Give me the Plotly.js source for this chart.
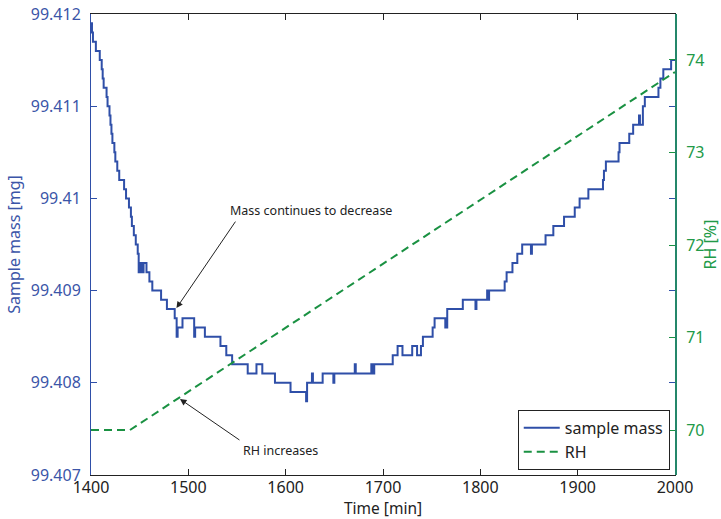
<!DOCTYPE html>
<html>
<head>
<meta charset="utf-8">
<script src="https://cdn.plot.ly/plotly-3.0.1.min.js"></script>
<style>
html,body{margin:0;padding:0;background:#fff;}
#chart{width:721px;height:519px;}
</style>
</head>
<body>
<div id="chart"></div>
<script>
// ---- data ----
const massTime = [1400,1401,1402,1405,1409,1411,1412,1413,1416,1417,1419,1420,1421,1422,1424,1425,1427,1429,1434,1436,1439,1441,1442,1444,1446,1448,1449,1450,1451,1452,1453,1454,1457,1460,1463,1472,1478,1486,1488,1489,1494,1506,1507,1517,1533,1539,1545,1561,1570,1576,1589,1605,1621,1622,1627,1628,1638,1649,1650,1671,1672,1688,1690,1691,1710,1715,1720,1730,1735,1739,1741,1751,1753,1764,1766,1782,1795,1796,1807,1808,1809,1825,1827,1833,1838,1843,1852,1853,1867,1875,1886,1897,1902,1911,1926,1927,1929,1942,1943,1953,1957,1963,1964,1967,1969,1983,1985,1988,1996,2000];
const massValue = [99.4119,99.4118,99.4117,99.4116,99.4115,99.4114,99.4113,99.4112,99.4111,99.4110,99.4109,99.4108,99.4107,99.4106,99.4105,99.4104,99.4103,99.4102,99.4101,99.4100,99.4099,99.4098,99.4097,99.4096,99.4095,99.4094,99.4092,99.4093,99.4092,99.4093,99.4092,99.4093,99.4092,99.4091,99.4090,99.4089,99.4088,99.4087,99.4085,99.4086,99.4087,99.4085,99.4086,99.4085,99.4084,99.4083,99.4082,99.4081,99.4082,99.4081,99.4080,99.4079,99.4078,99.4080,99.4081,99.4080,99.4081,99.4080,99.4081,99.4082,99.4081,99.4082,99.4081,99.4082,99.4083,99.4084,99.4083,99.4084,99.4083,99.4084,99.4085,99.4086,99.4087,99.4086,99.4088,99.4089,99.4088,99.4089,99.4090,99.4089,99.4090,99.4091,99.4092,99.4093,99.4094,99.4095,99.4094,99.4095,99.4096,99.4097,99.4098,99.4099,99.4100,99.4101,99.4102,99.4103,99.4104,99.4105,99.4106,99.4107,99.4108,99.4109,99.4108,99.4110,99.4111,99.4112,99.4113,99.4114,99.4115,99.4115];

const rhTime = [1400, 1440, 2000];
const rhValue = [70, 70, 73.87];

const xTickValues = [1400,1500,1600,1700,1800,1900,2000];
const yTickValues = [99.407,99.408,99.409,99.41,99.411,99.412];
const yTickLabels = ['99.407','99.408','99.409','99.41','99.411','99.412'];
const y2TickValues = [70,71,72,73,74];

const seriesNames = ['sample mass','RH'];
const annotationTexts = ['Mass continues to decrease','RH increases'];
const axisTitles = {x:'Time [min]', y:'Sample mass [mg]', y2:'RH [%]'};

// ---- styling ----
const BLUE = '#2f4fa8';
const BLUE_TXT = '#3b55a8';
const GREEN = '#1a9142';
const GREEN_TXT = '#229a48';
const FONT = '"Noto Sans", "Open Sans", sans-serif';

const traces = [
  {x: massTime, y: massValue, name: seriesNames[0], type:'scatter', mode:'lines',
   line:{color:BLUE, width:2, shape:'hv'}, yaxis:'y'},
  {x: rhTime, y: rhValue, name: seriesNames[1], type:'scatter', mode:'lines',
   line:{color:GREEN, width:2, dash:'8px,5px'}, yaxis:'y2'}
];

const layout = {
  width:721, height:519,
  margin:{l:91, r:46, t:14, b:44},
  paper_bgcolor:'#fff', plot_bgcolor:'#fff',
  font:{family:FONT, size:16, color:'#222'},
  showlegend:true,
  legend:{x:0.991, xanchor:'right', y:0.011, yanchor:'bottom',
    bordercolor:'#222', borderwidth:1, bgcolor:'#fff', itemwidth:36,
    font:{family:FONT, size:16, color:'#222'}, tracegroupgap:0},
  xaxis:{range:[1400,2000], tickvals:xTickValues, ticks:'inside', ticklen:6,
    tickcolor:'#222', showline:true, linecolor:'#222', linewidth:1, mirror:'ticks',
    showgrid:false, zeroline:false, tickfont:{size:16, color:'#222'}, ticklabelstandoff:-2,
    title:{text:axisTitles.x, font:{size:15.5, color:'#222'}, standoff:5}},
  yaxis:{range:[99.407,99.412], tickvals:yTickValues, ticktext:yTickLabels,
    ticks:'inside', ticklen:6, tickcolor:BLUE, showline:true, linecolor:BLUE, linewidth:1,
    mirror:'ticks', showgrid:false, zeroline:false, ticklabelstandoff:6,
    tickfont:{size:16, color:BLUE_TXT},
    title:{text:axisTitles.y, font:{size:16, color:BLUE_TXT}, standoff:6}},
  yaxis2:{range:[69.514,74.497], tickvals:y2TickValues, overlaying:'y', side:'right',
    ticks:'inside', ticklen:6, tickcolor:GREEN, showline:true, linecolor:'#24876a', linewidth:2,
    showgrid:false, zeroline:false, ticklabelstandoff:6,
    tickfont:{size:16, color:GREEN_TXT},
    title:{text:axisTitles.y2, font:{size:16, color:GREEN_TXT}, standoff:5}},
  annotations:[
    {x:1487.8, y:99.40881, xref:'x', yref:'y', ax:60, ay:-88, text:'', showarrow:true,
     arrowhead:2, arrowsize:1.3, arrowwidth:1, arrowcolor:'#222', standoff:0},
    {x:1626, y:99.40987, xref:'x', yref:'y', text:annotationTexts[0], showarrow:false,
     font:{family:FONT, size:12.5, color:'#222'}},
    {x:1491.4, y:99.407824, xref:'x', yref:'y', ax:61, ay:42, text:'', showarrow:true,
     arrowhead:2, arrowsize:1.3, arrowwidth:1, arrowcolor:'#222', standoff:0},
    {x:1594.2, y:99.40727, xref:'x', yref:'y', text:annotationTexts[1], showarrow:false,
     font:{family:FONT, size:12.5, color:'#222'}}
  ]
};

Plotly.newPlot('chart', traces, layout, {staticPlot:true, displayModeBar:false});
</script>
</body>
</html>
